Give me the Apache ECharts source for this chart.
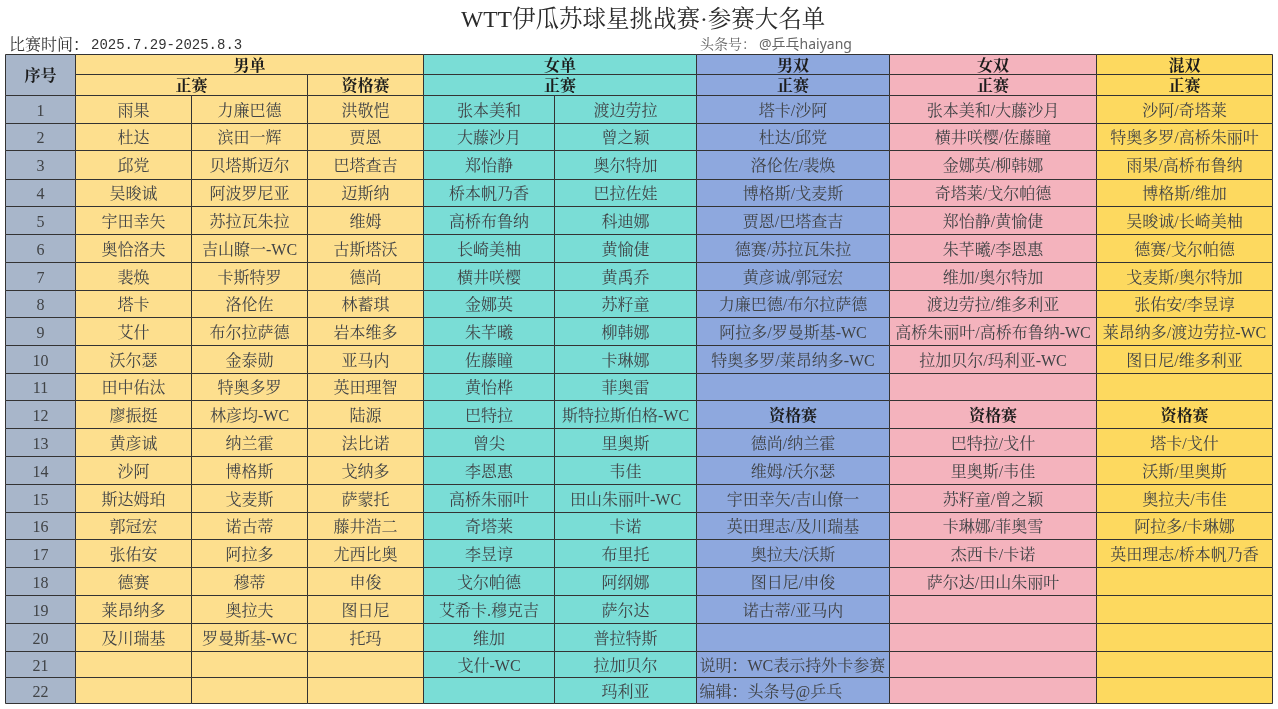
<!DOCTYPE html>
<html>
<head>
<meta charset="utf-8">
<style>
  html, body { margin: 0; padding: 0; background: #fff; }
  #chart-container { width: 1278px; height: 709px; }
</style>
</head>
<body>
<div id="chart-container"></div>
<script src="https://cdn.jsdelivr.net/npm/echarts@6/dist/echarts.min.js"></script>
<script>
// table contents
var rowNumbers = ['1','2','3','4','5','6','7','8','9','10','11','12','13','14','15','16','17','18','19','20','21','22'];
var menSingles1 = ['雨果','杜达','邱党','吴晙诚','宇田幸矢','奥恰洛夫','裴焕','塔卡','艾什','沃尔瑟','田中佑汰','廖振挺','黄彦诚','沙阿','斯达姆珀','郭冠宏','张佑安','德赛','莱昂纳多','及川瑞基','',''];
var menSingles2 = ['力廉巴德','滨田一辉','贝塔斯迈尔','阿波罗尼亚','苏拉瓦朱拉','吉山瞭一-WC','卡斯特罗','洛伦佐','布尔拉萨德','金泰勋','特奥多罗','林彦均-WC','纳兰霍','博格斯','戈麦斯','诺古蒂','阿拉多','穆蒂','奥拉夫','罗曼斯基-WC','',''];
var menQualifying = ['洪敬恺','贾恩','巴塔查吉','迈斯纳','维姆','古斯塔沃','德尚','林蓄琪','岩本维多','亚马内','英田理智','陆源','法比诺','戈纳多','萨蒙托','藤井浩二','尤西比奥','申俊','图日尼','托玛','',''];
var womenSingles1 = ['张本美和','大藤沙月','郑怡静','桥本帆乃香','高桥布鲁纳','长崎美柚','横井咲樱','金娜英','朱芊曦','佐藤瞳','黄怡桦','巴特拉','曾尖','李恩惠','高桥朱丽叶','奇塔莱','李昱谆','戈尔帕德','艾希卡.穆克吉','维加','戈什-WC',''];
var womenSingles2 = ['渡边劳拉','曾之颖','奥尔特加','巴拉佐娃','科迪娜','黄愉倢','黄禹乔','苏籽童','柳韩娜','卡琳娜','菲奥雷','斯特拉斯伯格-WC','里奥斯','韦佳','田山朱丽叶-WC','卡诺','布里托','阿纲娜','萨尔达','普拉特斯','拉加贝尔','玛利亚'];
var menDoubles = ['塔卡/沙阿','杜达/邱党','洛伦佐/裴焕','博格斯/戈麦斯','贾恩/巴塔查吉','德赛/苏拉瓦朱拉','黄彦诚/郭冠宏','力廉巴德/布尔拉萨德','阿拉多/罗曼斯基-WC','特奥多罗/莱昂纳多-WC','','资格赛','德尚/纳兰霍','维姆/沃尔瑟','宇田幸矢/吉山僚一','英田理志/及川瑞基','奥拉夫/沃斯','图日尼/申俊','诺古蒂/亚马内','','说明：WC表示持外卡参赛','编辑：头条号@乒乓'];
var womenDoubles = ['张本美和/大藤沙月','横井咲樱/佐藤瞳','金娜英/柳韩娜','奇塔莱/戈尔帕德','郑怡静/黄愉倢','朱芊曦/李恩惠','维加/奥尔特加','渡边劳拉/维多利亚','高桥朱丽叶/高桥布鲁纳-WC','拉加贝尔/玛利亚-WC','','资格赛','巴特拉/戈什','里奥斯/韦佳','苏籽童/曾之颖','卡琳娜/菲奥雪','杰西卡/卡诺','萨尔达/田山朱丽叶','','','',''];
var mixedDoubles = ['沙阿/奇塔莱','特奥多罗/高桥朱丽叶','雨果/高桥布鲁纳','博格斯/维加','吴晙诚/长崎美柚','德赛/戈尔帕德','戈麦斯/奥尔特加','张佑安/李昱谆','莱昂纳多/渡边劳拉-WC','图日尼/维多利亚','','资格赛','塔卡/戈什','沃斯/里奥斯','奥拉夫/韦佳','阿拉多/卡琳娜','英田理志/桥本帆乃香','','','','',''];

// layout of the sheet, in axis units
var colEdges = [5.5, 75.5, 191.5, 307.5, 423.5, 554.5, 696.5, 889.5, 1096.5, 1272.5];
var rowEdges = [54.5, 74.5, 95.5, 123.5, 150.5, 179.5, 206.5, 234.5, 262.5, 290.5, 317.5, 345.5, 373.5, 400.5, 428.5, 456.5, 484.5, 512.5, 539.5, 567.5, 595.5, 623.5, 651.5, 677.5, 703.5];

var SEQ = '#A8B6CA', MEN = '#FDDF8E', WOMEN = '#7ADDD6', MD = '#8EA8DE', WD = '#F4B3BD', MIX = '#FDD95F';
var cjk = '"Liberation Serif","Noto Serif CJK SC","Noto Sans CJK SC"';
var cells = [];

function addCell(c0, r0, c1, r1, text, fill, head, left) {
  cells.push({ c0: c0, r0: r0, c1: c1, r1: r1, text: text, fill: fill, head: head, left: left });
}

addCell(0, 0, 1, 2, '序号', SEQ, true);
addCell(1, 0, 4, 1, '男单', MEN, true);
addCell(1, 1, 3, 2, '正赛', MEN, true);
addCell(3, 1, 4, 2, '资格赛', MEN, true);
addCell(4, 0, 6, 1, '女单', WOMEN, true);
addCell(4, 1, 6, 2, '正赛', WOMEN, true);
addCell(6, 0, 7, 1, '男双', MD, true);
addCell(6, 1, 7, 2, '正赛', MD, true);
addCell(7, 0, 8, 1, '女双', WD, true);
addCell(7, 1, 8, 2, '正赛', WD, true);
addCell(8, 0, 9, 1, '混双', MIX, true);
addCell(8, 1, 9, 2, '正赛', MIX, true);

var columns = [
  [rowNumbers, SEQ], [menSingles1, MEN], [menSingles2, MEN], [menQualifying, MEN],
  [womenSingles1, WOMEN], [womenSingles2, WOMEN], [menDoubles, MD], [womenDoubles, WD], [mixedDoubles, MIX]
];
columns.forEach(function (col, c) {
  col[0].forEach(function (name, r) {
    var isNote = name.indexOf('说明') === 0 || name.indexOf('编辑') === 0;
    addCell(c, r + 2, c + 1, r + 3, name, col[1], name === '资格赛', isNote);
  });
});

function renderCell(params, api) {
  var cell = cells[params.dataIndex];
  var p0 = api.coord([colEdges[cell.c0], rowEdges[cell.r0]]);
  var p1 = api.coord([colEdges[cell.c1], rowEdges[cell.r1]]);
  var children = [{
    type: 'rect',
    shape: { x: p0[0], y: p0[1], width: p1[0] - p0[0], height: p1[1] - p0[1] },
    style: { fill: cell.fill, stroke: '#333333', lineWidth: 1 }
  }];
  if (cell.text) {
    children.push({
      type: 'text',
      style: {
        x: cell.left ? p0[0] + 3 : (p0[0] + p1[0]) / 2,
        y: (p0[1] + p1[1]) / 2 + 2,
        text: cell.text,
        align: cell.left ? 'left' : 'center',
        verticalAlign: 'middle',
        fill: cell.head ? '#1c1c1c' : '#404346',
        font: (cell.head ? 'bold ' : '') + '16px ' + cjk
      }
    });
  }
  return { type: 'group', children: children };
}

var myChart = echarts.init(document.getElementById('chart-container'), null, { renderer: 'canvas' });

var option = {
  animation: false,
  backgroundColor: '#fff',
  title: {
    text: 'WTT伊瓜苏球星挑战赛·参赛大名单',
    left: 456,
    top: 4,
    textStyle: { fontFamily: cjk, fontSize: 23.5, fontWeight: 'normal', color: '#2a2a2a' }
  },
  grid: { left: 5.5, right: 5.5, top: 54.5, bottom: 5.5 },
  xAxis: { type: 'value', min: colEdges[0], max: colEdges[9], show: false },
  yAxis: { type: 'value', min: rowEdges[0], max: rowEdges[24], inverse: true, show: false },
  graphic: [
    { type: 'text', left: 9, top: 38, style: { text: '比赛时间：', fill: '#333', font: '16px ' + cjk } },
    { type: 'text', left: 91, top: 38, style: { text: '2025.7.29-2025.8.3', fill: '#333', font: '14px "Liberation Mono"' } },
    { type: 'text', left: 700, top: 38, style: { text: '头条号：', fill: '#666', font: '14px ' + cjk } },
    { type: 'text', left: 759, top: 38, style: { text: '@乒乓haiyang', fill: '#666', font: '14px "Noto Sans","Noto Sans CJK SC"' } }
  ],
  series: [{
    type: 'custom',
    coordinateSystem: 'cartesian2d',
    silent: true,
    clip: false,
    renderItem: renderCell,
    encode: { x: [0, 2], y: [1, 3] },
    data: cells.map(function (cell) {
      return [colEdges[cell.c0], rowEdges[cell.r0], colEdges[cell.c1], rowEdges[cell.r1]];
    })
  }]
};

myChart.setOption(option);
window.addEventListener('resize', myChart.resize);
</script>
</body>
</html>
